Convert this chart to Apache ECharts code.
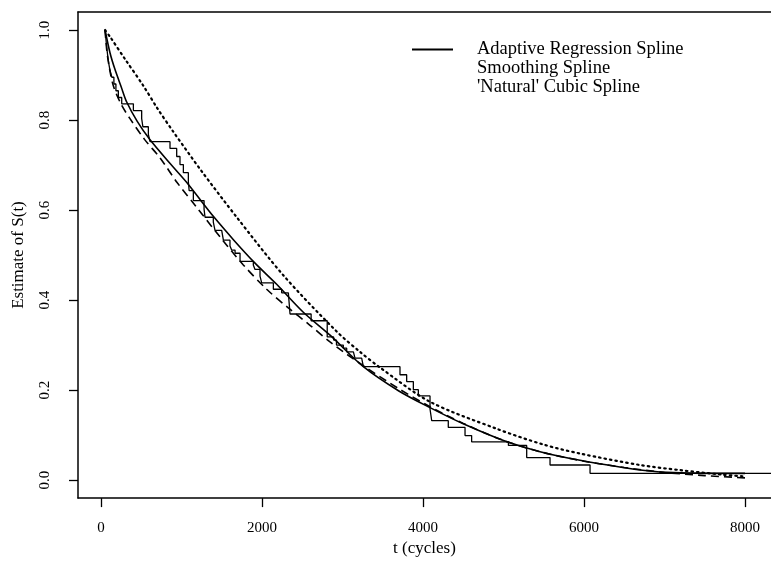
<!DOCTYPE html>
<html>
<head>
<meta charset="utf-8">
<script src="https://cdn.jsdelivr.net/npm/echarts@6/dist/echarts.min.js"></script>
<style>
  html, body { margin: 0; padding: 0; background: #fff; }
  #main { width: 771px; height: 562px; }
</style>
</head>
<body>
<div id="main"></div>
<script>
// tick positions
const xTicks = [0, 2000, 4000, 6000, 8000];
const yTicks = [0, 0.2, 0.4, 0.6, 0.8, 1.0];

const seriesNames = ['Adaptive Regression Spline', 'Smoothing Spline', "'Natural' Cubic Spline"];

// Kaplan-Meier step estimate (time where the value starts, value)
const kmTime = [50, 58, 66, 75, 85, 97, 112, 135, 160, 185, 215, 257, 402, 505, 520, 588, 609, 857, 940, 981,
  1023, 1085, 1095, 1147, 1280, 1292, 1395, 1416, 1499, 1520, 1602, 1623, 1665, 1727, 1892, 1913, 1975, 1996, 2141, 2244,
  2327, 2348, 2610, 2810, 2890, 2925, 3010, 3052, 3135, 3155, 3238, 3259, 3714, 3797, 3880, 3942, 4087, 4108, 4314, 4522,
  4604, 5061, 5288, 5578, 6075, 8400];
const kmSurv = [1.0, 0.985, 0.97, 0.955, 0.94, 0.925, 0.91, 0.895, 0.88, 0.865, 0.85, 0.836, 0.821, 0.803, 0.785, 0.768, 0.752, 0.737, 0.719, 0.701,
  0.683, 0.663, 0.643, 0.621, 0.602, 0.584, 0.573, 0.555, 0.551, 0.533, 0.52, 0.511, 0.504, 0.486, 0.478, 0.468, 0.453, 0.438, 0.424, 0.416,
  0.413, 0.369, 0.354, 0.318, 0.311, 0.30, 0.293, 0.285, 0.282, 0.271, 0.267, 0.252, 0.234, 0.219, 0.201, 0.187, 0.158, 0.132, 0.117, 0.099,
  0.085, 0.077, 0.05, 0.0335, 0.015, 0.015];

// adaptive regression spline (solid)
const arsTime = [50, 112, 174, 250, 319, 450, 609, 850, 1085, 1271, 1395, 1650, 1913, 2182, 2513, 2845, 3259, 3700, 4087, 4500, 5000, 5454, 5950, 6696, 7200, 8000];
const arsSurv = [1.0, 0.949, 0.912, 0.874, 0.840, 0.797, 0.756, 0.705, 0.657, 0.614, 0.586, 0.533, 0.482, 0.435, 0.373, 0.322, 0.252, 0.198, 0.161, 0.125, 0.088, 0.063, 0.044, 0.0225, 0.016, 0.015];

// smoothing spline (dashed)
const ssTime = [50, 71, 100, 153, 250, 360, 540, 733, 950, 1188, 1480, 1768, 2058, 2330, 2596, 2845, 3259, 3700, 4087, 4500, 5000, 5500, 6000, 6500, 7000, 7500, 8000];
const ssSurv = [1.0, 0.956, 0.92, 0.876, 0.835, 0.803, 0.757, 0.716, 0.66, 0.606, 0.54, 0.478, 0.424, 0.382, 0.344, 0.307, 0.254, 0.203, 0.163, 0.126, 0.088, 0.061, 0.042, 0.028, 0.017, 0.01, 0.005];

// natural cubic spline (dotted)
const ncsTime = [50, 112, 300, 526, 700, 898, 1251, 1686, 2265, 2928, 3217, 3466, 4087, 4915, 5495, 5950, 6696, 7200, 7727, 8000];
const ncsSurv = [1.0, 0.985, 0.935, 0.876, 0.826, 0.774, 0.686, 0.584, 0.455, 0.330, 0.285, 0.250, 0.174, 0.114, 0.079, 0.059, 0.0335, 0.022, 0.012, 0.008];

const zip = (xs, ys) => xs.map((x, i) => [x, ys[i]]);

const font = 'Liberation Serif';
const frameLine = { show: true, onZero: false, lineStyle: { color: '#000', width: 1.5 } };
const myChart = echarts.init(document.getElementById('main'), null, { renderer: 'canvas' });

const option = {
  animation: false,
  backgroundColor: '#fff',
  grid: { left: 78, top: 12, width: 693, height: 494 },
  legend: {
    orient: 'vertical',
    left: 407, top: 35,
    itemWidth: 41, itemHeight: 2, itemGap: 0,
    selectedMode: false,
    textStyle: { fontFamily: font, fontSize: 18.5, color: '#000', lineHeight: 19, padding: [0, 0, 0, 19] },
    data: [
      { name: seriesNames[0], icon: 'rect', itemStyle: { color: '#000' } },
      { name: seriesNames[1], icon: 'none' },
      { name: seriesNames[2], icon: 'none' }
    ]
  },
  xAxis: [
    {
      type: 'value', min: -286, max: 8323,
      name: 't (cycles)', nameLocation: 'middle', nameGap: 38,
      nameTextStyle: { fontFamily: font, fontSize: 17, color: '#000' },
      axisLine: frameLine,
      splitLine: { show: false },
      axisTick: { show: true, length: 9, lineStyle: { color: '#000', width: 1.3 }, customValues: xTicks },
      axisLabel: {
        customValues: xTicks, margin: 22, fontFamily: font, fontSize: 15, color: '#000',
        formatter: v => String(v)
      }
    },
    {
      // top edge of the plot frame
      type: 'value', position: 'top', min: -286, max: 8323,
      axisLine: frameLine, axisTick: { show: false }, axisLabel: { show: false }, splitLine: { show: false }
    }
  ],
  yAxis: {
    type: 'value', min: -0.04, max: 1.04,
    name: 'Estimate of S(t)', nameLocation: 'middle', nameGap: 51,
    nameTextStyle: { fontFamily: font, fontSize: 17, color: '#000' },
    axisLine: frameLine,
    splitLine: { show: false },
    axisTick: { show: true, length: 9, lineStyle: { color: '#000', width: 1.3 }, customValues: yTicks },
    axisLabel: {
      customValues: yTicks, margin: 25, rotate: 90,
      fontFamily: font, fontSize: 15, color: '#000',
      formatter: v => v.toFixed(1)
    }
  },
  series: [
    {
      name: seriesNames[0], type: 'line', data: zip(arsTime, arsSurv),
      symbol: 'none', smooth: 0.3, itemStyle: { color: '#000' },
      lineStyle: { color: '#000', width: 1.6 }, z: 4
    },
    {
      name: seriesNames[1], type: 'line', data: zip(ssTime, ssSurv),
      symbol: 'none', smooth: 0.3, itemStyle: { color: '#000' },
      lineStyle: { color: '#000', width: 1.6, type: [8, 5] }, z: 3
    },
    {
      name: seriesNames[2], type: 'line', data: zip(ncsTime, ncsSurv),
      symbol: 'none', smooth: 0.3, itemStyle: { color: '#000' },
      lineStyle: { color: '#000', width: 2.2, type: [1.5, 4], cap: 'round' }, z: 3
    },
    {
      name: 'Kaplan-Meier', type: 'line', data: zip(kmTime, kmSurv),
      symbol: 'none', step: 'end', itemStyle: { color: '#000' },
      lineStyle: { color: '#000', width: 1.3 }, z: 2
    }
  ]
};
option && myChart.setOption(option);
</script>
</body>
</html>
